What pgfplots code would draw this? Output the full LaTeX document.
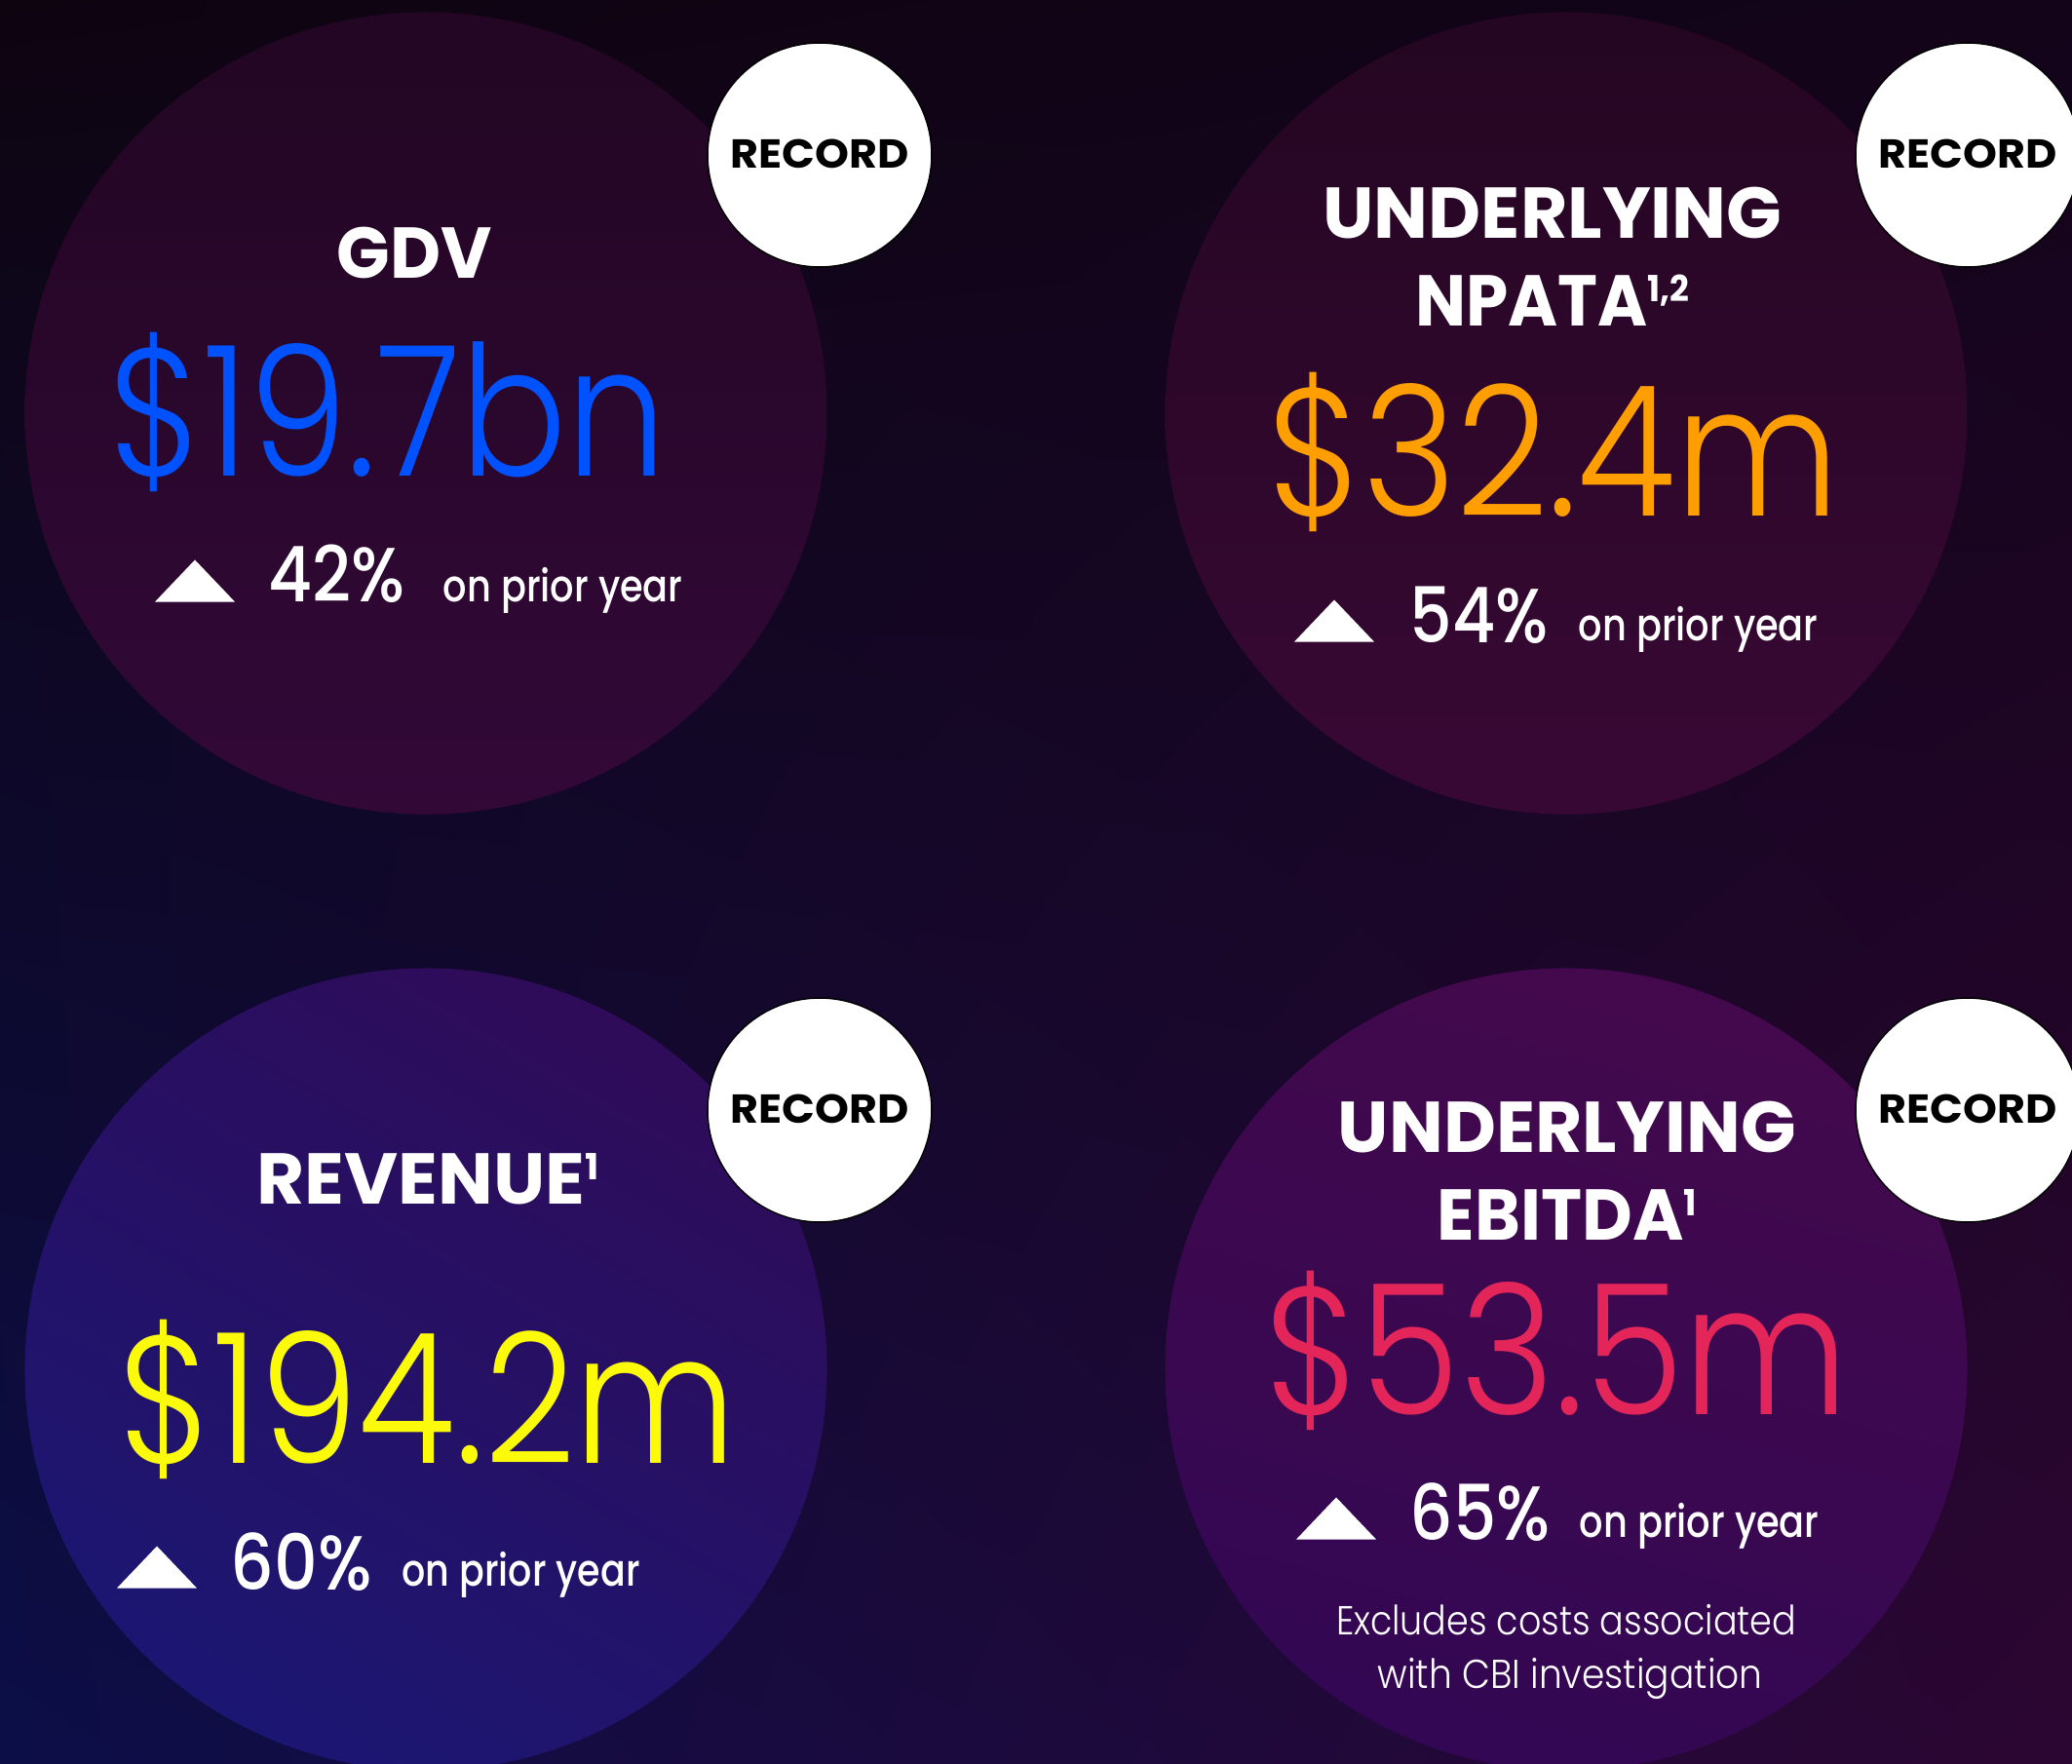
\documentclass[border=0pt]{standalone}
\usepackage{pgfplots}
\pgfplotsset{compat=1.18}
\usepackage{graphicx}
\usepackage{fontspec}
\usetikzlibrary{shadings}
\setmainfont{Poppins}
\IfFontExistsTF{Poppins Light}{\newfontfamily\lfont{Poppins Light}}{\newfontfamily\lfont{Poppins}}
\IfFontExistsTF{Poppins Medium}{\newfontfamily\mfont{Poppins Medium}}{\newfontfamily\mfont{Poppins}}

% colours
\definecolor{bgTL}{HTML}{0E0410}
\definecolor{bgTR}{HTML}{13041A}
\definecolor{bgBL}{HTML}{0C0E48}
\definecolor{bgBR}{HTML}{2C0632}
\definecolor{aTop}{HTML}{1A0418}
\definecolor{aBot}{HTML}{3A0A42}
\definecolor{bTop}{HTML}{1A0418}
\definecolor{bBot}{HTML}{420A3E}
\definecolor{cTop}{HTML}{38064C}
\definecolor{cBot}{HTML}{121C80}
\definecolor{dTop}{HTML}{4C0A48}
\definecolor{dBot}{HTML}{2A0658}
\definecolor{gdvblue}{HTML}{0052FF}
\definecolor{npataorange}{HTML}{FF9E00}
\definecolor{revyellow}{HTML}{FAFA0A}
\definecolor{ebitdapink}{HTML}{E3255A}

\pgfdeclareverticalshading{shA}{100bp}{color(0bp)=(aBot); color(100bp)=(aTop)}
\pgfdeclareverticalshading{shB}{100bp}{color(0bp)=(bBot); color(100bp)=(bTop)}
\pgfdeclareverticalshading{shC}{100bp}{color(0bp)=(cBot); color(100bp)=(cTop)}
\pgfdeclareverticalshading{shD}{100bp}{color(0bp)=(dBot); color(100bp)=(dTop)}

\pgfdeclareplotmark{discA}{\pgfpathcircle{\pgfpointorigin}{\pgfplotmarksize}\pgfshadepath{shA}{0}\pgfusepath{discard}}
\pgfdeclareplotmark{discB}{\pgfpathcircle{\pgfpointorigin}{\pgfplotmarksize}\pgfshadepath{shB}{0}\pgfusepath{discard}}
\pgfdeclareplotmark{discC}{\pgfpathcircle{\pgfpointorigin}{\pgfplotmarksize}\pgfshadepath{shC}{-30}\pgfusepath{discard}}
\pgfdeclareplotmark{discD}{\pgfpathcircle{\pgfpointorigin}{\pgfplotmarksize}\pgfshadepath{shD}{-15}\pgfusepath{discard}}
% flat up-triangle
\pgfdeclareplotmark{uptri}{%
  \pgfpathmoveto{\pgfqpoint{-\pgfplotmarksize}{-0.525\pgfplotmarksize}}%
  \pgfpathlineto{\pgfqpoint{\pgfplotmarksize}{-0.525\pgfplotmarksize}}%
  \pgfpathlineto{\pgfqpoint{0pt}{0.525\pgfplotmarksize}}%
  \pgfpathclose\pgfusepathqfill}

\newcommand\fit[2]{\resizebox{#1}{\height}{#2}}

\tikzset{
  hd/.style={anchor=base, inner sep=0pt, text=white, font=\bfseries\fontsize{21}{21}\selectfont},
  big/.style={anchor=base, inner sep=0pt, font=\lfont\fontsize{53}{53}\selectfont},
  pct/.style={anchor=base west, inner sep=0pt, text=white, font=\mfont\fontsize{22.4}{22.4}\selectfont},
  opy/.style={anchor=base west, inner sep=0pt, text=white, font=\mfont\fontsize{13}{13}\selectfont},
  rec/.style={anchor=base, inner sep=0pt, text=black, font=\bfseries\fontsize{11.8}{11.8}\selectfont},
  note/.style={anchor=base, inner sep=0pt, text=white, font=\lfont\fontsize{11.8}{11.8}\selectfont},
}
\newcommand\fnote[1]{\raisebox{7.2pt}{\fontsize{10.5}{10.5}\selectfont #1}}

\begin{document}
\begin{tikzpicture}
\path[use as bounding box] (0,0) rectangle (212.6mm,181mm);
\begin{axis}[
    at={(0,0)}, anchor=south west,
    width=212.6mm, height=181mm, scale only axis,
    xmin=0, xmax=2126, ymin=0, ymax=1810,
    y dir=reverse,
    axis lines=none, ticks=none,
    axis background/.style={shade, upper left=bgTL, upper right=bgTR,
        lower left=bgBL, lower right=bgBR},
]
% big circles
\addplot[only marks, mark=discA, mark size=117.1pt] coordinates {(437,424)};
\addplot[only marks, mark=discB, mark size=117.1pt] coordinates {(1607,424)};
\addplot[only marks, mark=discC, mark size=117.1pt] coordinates {(437,1405)};
\addplot[only marks, mark=discD, mark size=117.1pt] coordinates {(1607,1405)};
% RECORD badges
\addplot[only marks, mark=*, mark size=32.7pt, mark options={fill=white, draw=none}]
  coordinates {(841,159) (2019,159) (841,1139) (2019,1139)};
% up arrows
\addplot[only marks, mark=uptri, mark size=11.66pt, color=white, mark options={fill=white, draw=none}]
  coordinates {(200,596) (1369,637) (161,1608) (1371,1558)};

% text anchors (text itself is set after the axis, above the markers)
\coordinate (r1) at (axis cs:841,173);
\coordinate (r2) at (axis cs:2019,173);
\coordinate (r3) at (axis cs:841,1153);
\coordinate (r4) at (axis cs:2019,1153);
\coordinate (g1) at (axis cs:425,286);
\coordinate (g2) at (axis cs:398,489);
\coordinate (g3) at (axis cs:275,618);
\coordinate (g4) at (axis cs:454,618);
\coordinate (n1) at (axis cs:1593,245);
\coordinate (n2) at (axis cs:1593,335);
\coordinate (n3) at (axis cs:1594,530);
\coordinate (n4) at (axis cs:1446,660);
\coordinate (n5) at (axis cs:1619,658);
\coordinate (v1) at (axis cs:439,1236);
\coordinate (v2) at (axis cs:439,1502);
\coordinate (v3) at (axis cs:236,1632);
\coordinate (v4) at (axis cs:412,1628);
\coordinate (e1) at (axis cs:1608,1183);
\coordinate (e2) at (axis cs:1608,1273);
\coordinate (e3) at (axis cs:1597,1452);
\coordinate (e4) at (axis cs:1446,1581);
\coordinate (e5) at (axis cs:1620,1578);
\coordinate (e6) at (axis cs:1607,1678);
\coordinate (e7) at (axis cs:1611,1733);
\end{axis}

% badge text
\node[rec] at (r1) {\fit{18.3mm}{RECORD}};
\node[rec] at (r2) {\fit{18.3mm}{RECORD}};
\node[rec] at (r3) {\fit{18.3mm}{RECORD}};
\node[rec] at (r4) {\fit{18.3mm}{RECORD}};

% GDV
\node[hd] at (g1) {\fit{15.9mm}{GDV}};
\node[big, text=gdvblue] at (g2) {\fit{57.3mm}{\$19.7bn}};
\node[pct] at (g3) {\fit{14.0mm}{42\%}};
\node[opy] at (g4) {\fit{24.6mm}{on prior year}};

% Underlying NPATA
\node[hd] at (n1) {\fit{47.1mm}{UNDERLYING}};
\node[hd] at (n2) {\fit{28.1mm}{NPATA\fnote{1,2}}};
\node[big, text=npataorange] at (n3) {\fit{58.7mm}{\$32.4m}};
\node[pct] at (n4) {\fit{14.2mm}{54\%}};
\node[opy] at (n5) {\fit{24.6mm}{on prior year}};

% Revenue
\node[hd] at (v1) {\fit{35.1mm}{REVENUE\fnote{1}}};
\node[big, text=revyellow] at (v2) {\fit{63.4mm}{\$194.2m}};
\node[pct] at (v3) {\fit{14.5mm}{60\%}};
\node[opy] at (v4) {\fit{24.4mm}{on prior year}};

% Underlying EBITDA
\node[hd] at (e1) {\fit{47.0mm}{UNDERLYING}};
\node[hd] at (e2) {\fit{26.6mm}{EBITDA\fnote{1}}};
\node[big, text=ebitdapink] at (e3) {\fit{60.0mm}{\$53.5m}};
\node[pct] at (e4) {\fit{14.4mm}{65\%}};
\node[opy] at (e5) {\fit{24.6mm}{on prior year}};
\node[note] at (e6) {\fit{47.2mm}{Excludes costs associated}};
\node[note] at (e7) {\fit{39.5mm}{with CBI investigation}};
\end{tikzpicture}
\end{document}
